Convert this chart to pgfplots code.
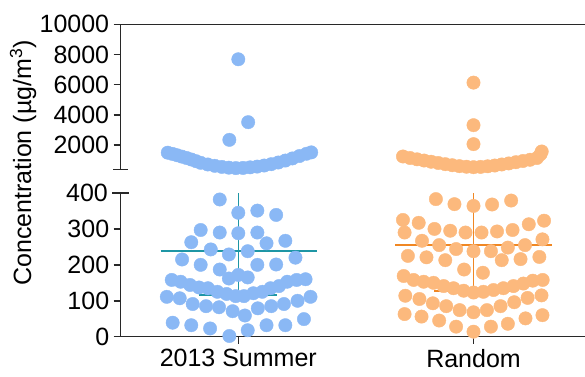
\documentclass[border=0pt]{standalone}
\usepackage{fontspec}
\setmainfont{Liberation Sans}
\usepackage{pgfplots}
\usepackage{pgfplotstable}
\pgfplotsset{compat=1.18}
\definecolor{bdot}{RGB}{138,184,245}
\definecolor{odot}{RGB}{252,185,125}
\definecolor{bline}{RGB}{30,150,165}
\definecolor{oline}{RGB}{240,135,35}
\definecolor{axc}{RGB}{40,40,40}

\pgfplotstableread{
x y
-0.079 382
0 345
0.081 351
0.161 339
-0.160 297
-0.079 290
0 288
0.081 290
-0.200 263
-0.117 243
-0.040 229
0.040 238
0.120 260
0.200 267
-0.239 215
-0.160 200
-0.079 187
0.081 200
0.161 201
0.243 220
-0.040 162
0 172
0.040 165
-0.283 158
-0.245 153
-0.205 144
-0.167 137
-0.129 135
-0.089 125
-0.050 119
-0.011 113
0.024 113
0.064 121
0.102 125
0.137 135
0.173 141
0.208 153
0.248 158
0.286 160
-0.304 111
-0.249 107
-0.194 91
-0.137 85
-0.082 82
-0.024 71
0.028 59
0.083 79
0.140 85
0.194 91
0.252 100
0.307 111
-0.279 39
-0.200 32
-0.120 23
-0.038 2
0.040 18
0.120 32
0.200 32
0.279 49
}\blueLow

\pgfplotstableread{
x y
0 7685
0.042 3520
-0.038 2350
-0.30 1500
-0.28 1420
-0.26 1330
-0.24 1240
-0.22 1150
-0.20 1050
-0.18 940
-0.16 830
-0.13 720
-0.10 630
-0.07 560
-0.04 510
-0.01 480
0.02 490
0.05 530
0.08 580
0.11 650
0.14 740
0.17 850
0.20 980
0.23 1120
0.26 1280
0.29 1430
0.31 1520
}\blueHigh

\pgfplotstableread{
x y
0.840 383
0.919 369
1.000 364
1.079 368
1.160 379
0.700 325
0.767 317
1.300 323
1.235 313
0.707 290
0.834 300
0.901 295
0.966 290
1.034 290
1.100 293
1.166 297
0.781 267
0.854 255
0.926 244
1.000 238
1.074 238
1.146 248
1.219 255
1.293 271
0.721 225
0.800 221
0.880 213
1.120 213
1.200 216
1.280 222
0.960 187
1.040 178
0.703 169
0.745 158
0.788 153
0.830 150
0.873 141
0.915 135
0.958 128
1.000 123
1.042 125
1.085 130
1.127 135
1.170 141
1.212 148
1.252 156
1.294 158
0.710 114
0.770 105
0.827 93
0.884 85
0.941 74
1.000 68
1.057 74
1.115 85
1.173 96
1.230 108
1.289 115
0.707 63
0.779 56
0.854 45
0.926 28
1.000 14
1.074 28
1.146 36
1.221 51
1.293 60
}\orangeLow

\pgfplotstableread{
x y
1 6138
1 3322
1 2066
0.70 1250
0.73 1150
0.76 1060
0.79 980
0.82 900
0.85 820
0.88 740
0.91 670
0.94 610
0.97 570
1.00 540
1.03 560
1.06 600
1.09 650
1.12 720
1.15 790
1.18 870
1.21 950
1.24 1030
1.27 1150
1.285 1400
1.29 1580
}\orangeHigh

\begin{document}
\begin{tikzpicture}[font=\fontsize{25}{30}\selectfont]
\pgfplotsset{
  every axis/.append style={
    scale only axis,
    width=464.3pt,
    xmin=-0.5, xmax=1.474,
    clip=false,
    axis line style={color=axc, line width=1.5pt},
    every tick/.style={color=axc, line width=1.5pt},
    tick align=outside,
    major tick length=7pt,
    tick label style={font=\fontsize{25}{30}\selectfont},
    scaled y ticks=false,
    /pgf/number format/assume math mode=true,
    /pgf/number format/set thousands separator={},
    yticklabel style={xshift=-1pt},
  },
}
% lower axis
\begin{axis}[
  at={(0pt,0pt)}, anchor=south west,
  height=143.7pt,
  ymin=0, ymax=400,
  axis x line*=bottom, axis y line*=left,
  xtick={0,1}, xticklabels={2013 Summer, Random},
  xticklabel style={yshift=-2pt},
  ytick={0,100,200,300},
  extra y ticks={400},
  extra y tick style={tick align=center, major tick length=16.6pt},
]
\addplot[only marks, mark=*, mark size=6.7pt, color=bdot, mark options={draw=none, fill=bdot}] table[x=x,y=y] {\blueLow};
\addplot[only marks, mark=*, mark size=6.7pt, color=odot, mark options={draw=none, fill=odot}] table[x=x,y=y] {\orangeLow};
\addplot[bline, line width=1.6pt] coordinates {(0,116) (0,400)};
\addplot[bline, line width=1.6pt] coordinates {(-0.33,238) (0.335,238)};
\addplot[bline, line width=1.6pt] coordinates {(-0.165,116) (0.165,116)};
\addplot[oline, line width=1.6pt] coordinates {(1,128) (1,400)};
\addplot[oline, line width=1.6pt] coordinates {(0.667,255) (1.333,255)};
\addplot[oline, line width=1.6pt] coordinates {(0.834,128) (1.166,128)};
\end{axis}
% upper axis
\begin{axis}[
  at={(0pt,167.4pt)}, anchor=south west,
  height=145pt,
  ymin=400, ymax=10000,
  axis x line*=top, axis y line*=left,
  xtick=\empty,
  ytick={2000,4000,6000,8000,10000},
  extra y ticks={400},
  extra y tick labels={},
  extra y tick style={tick align=center, major tick length=15pt},
]
\addplot[only marks, mark=*, mark size=6.7pt, color=bdot, mark options={draw=none, fill=bdot}] table[x=x,y=y] {\blueHigh};
\addplot[only marks, mark=*, mark size=6.7pt, color=odot, mark options={draw=none, fill=odot}] table[x=x,y=y] {\orangeHigh};
\addplot[bline, line width=1.6pt] coordinates {(0,400) (0,600)};
\addplot[bline, line width=1.6pt] coordinates {(-0.165,600) (0.165,600)};
\addplot[oline, line width=1.6pt] coordinates {(1,400) (1,530)};
\addplot[oline, line width=1.6pt] coordinates {(0.834,530) (1.166,530)};
\end{axis}
\node[rotate=90, anchor=center] at (-97.7pt,173.7pt) {Concentration (µg/m\textsuperscript{3})};
\pgfresetboundingbox
\path[use as bounding box] (-120.7pt,-39.3pt) rectangle (464.3pt,336.7pt);
\end{tikzpicture}
\end{document}
